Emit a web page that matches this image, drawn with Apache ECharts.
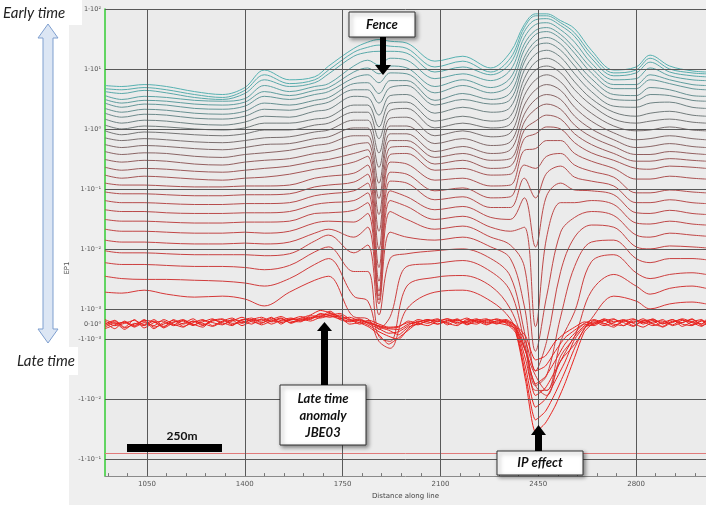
<!DOCTYPE html>
<html>
<head>
<meta charset="utf-8">
<script src="https://cdn.jsdelivr.net/npm/echarts@6/dist/echarts.min.js"></script>
<style>
  html, body { margin: 0; padding: 0; background: #fff; }
  #panel { position: absolute; left: 69px; top: 0; width: 637px; height: 505px; background: #efefef; }
  #chart { position: absolute; left: 0; top: 0; width: 706px; height: 505px; }
</style>
</head>
<body>
<div id="panel"></div>
<div id="chart"></div>
<script>
// distance along line of the sampled stations
const distance = [900, 960, 1040, 1120, 1220, 1320, 1400, 1470, 1560, 1650, 1700, 1790, 1840, 1880, 1920, 1980,
  2080, 2180, 2280, 2350, 2400, 2440, 2480, 2530, 2580, 2640, 2720, 2800, 2850, 2920, 3000, 3050];

// EP1 per time gate, early -> late
const gate01 = [5.3, 5.1, 5.5, 5.1, 4.2, 3.75, 4.9, 9.6, 6.6, 7.4, 11.2, 22, 28, 31, 29, 27, 13.5, 16.3, 10.4, 19, 55, 83, 83, 64, 47, 20.5, 9.6, 10.8, 17, 11.2, 9.3, 8.9];
const gate02 = [4.7, 4.5, 4.9, 4.5, 3.75, 3.35, 4.4, 8.0, 5.7, 6.6, 9.6, 19, 23, 25, 24, 22, 10.8, 13.5, 8.9, 15.1, 49, 77, 77, 59, 40, 17.6, 8.6, 9.6, 15.1, 10, 8.6, 8.3];
const gate03 = [4.2, 3.9, 4.4, 4.0, 3.35, 3.1, 3.9, 6.6, 5.1, 5.9, 8.3, 16.3, 19, 19.7, 19.7, 18.3, 8.9, 10.8, 8.0, 12.5, 42, 66, 69, 53, 35, 15.1, 7.7, 8.6, 13, 8.9, 7.7, 7.4];
const gate04 = [3.6, 3.1, 3.5, 3.35, 3.0, 2.9, 3.2, 5.3, 4.2, 5.1, 5.7, 11.2, 14, 11.6, 15.1, 14, 6.9, 8.3, 6.4, 9.6, 33.5, 55, 59, 45, 28, 12.5, 6.6, 6.9, 10.4, 7.7, 6.6, 6.4];
const gate05 = [3.1, 2.7, 3.0, 2.9, 2.6, 2.5, 2.8, 4.2, 3.6, 4.4, 4.9, 8.9, 10.4, 8.3, 11.2, 10.4, 5.1, 6.6, 4.9, 7.1, 26, 44, 49, 37.5, 22, 10.4, 5.5, 5.5, 8.0, 6.6, 5.5, 5.3];
const gate06 = [2.7, 2.3, 2.6, 2.5, 2.2, 2.13, 2.4, 3.5, 3.1, 3.75, 4.2, 7.1, 8.0, 5.9, 8.6, 8.3, 4.0, 5.3, 4.0, 5.5, 21, 37.5, 42, 32, 18.3, 8.6, 4.7, 4.7, 6.6, 5.7, 4.7, 4.5];
const gate07 = [2.2, 1.9, 2.13, 2.05, 1.83, 1.76, 1.97, 2.7, 2.5, 3.0, 3.35, 5.7, 5.9, 3.9, 6.4, 6.4, 3.0, 3.9, 3.1, 4.0, 15.7, 29, 33.5, 26, 14, 6.9, 3.75, 3.6, 4.9, 4.5, 3.6, 3.5];
const gate08 = [1.83, 1.57, 1.76, 1.7, 1.51, 1.46, 1.63, 2.13, 2.05, 2.5, 2.8, 4.5, 4.5, 2.7, 4.9, 5.3, 2.5, 3.1, 2.6, 3.1, 13, 24, 27, 20.5, 11.2, 5.5, 3.1, 3.0, 3.75, 3.6, 3.0, 2.9];
const gate09 = [1.46, 1.25, 1.4, 1.35, 1.21, 1.16, 1.3, 1.63, 1.57, 1.97, 2.13, 3.5, 3.35, 1.7, 3.6, 3.75, 1.83, 2.3, 1.9, 2.3, 9.6, 17.6, 20.5, 15.7, 8.3, 4.2, 2.4, 2.3, 2.7, 2.8, 2.3, 2.2];
const gate10 = [1.16, 1.0, 1.12, 1.08, 1.0, 0.96, 1.04, 1.25, 1.25, 1.46, 1.57, 2.5, 2.5, 1.08, 2.7, 2.8, 1.35, 1.63, 1.35, 1.63, 6.9, 13, 15.1, 11.6, 6.1, 3.2, 1.9, 1.63, 1.83, 1.97, 1.7, 1.63];
const gate11 = [0.93, 0.8, 0.89, 0.86, 0.8, 0.77, 0.83, 0.96, 0.96, 1.16, 1.25, 1.9, 1.9, 0.69, 2.05, 2.2, 1.04, 1.25, 1.04, 1.21, 5.1, 9.6, 11.2, 8.6, 4.5, 2.5, 1.46, 1.25, 1.35, 1.46, 1.3, 1.25];
const gate12 = [0.71, 0.64, 0.69, 0.66, 0.61, 0.59, 0.64, 0.71, 0.74, 0.89, 0.96, 1.4, 1.4, 0.4, 1.51, 1.57, 0.77, 0.93, 0.74, 0.86, 3.6, 6.6, 8.0, 6.1, 3.2, 1.83, 1.12, 0.93, 0.96, 1.08, 0.96, 0.93];
const gate13 = [0.55, 0.49, 0.53, 0.51, 0.47, 0.45, 0.49, 0.55, 0.57, 0.69, 0.74, 1.04, 1.04, 0.23, 1.12, 1.12, 0.57, 0.69, 0.53, 0.61, 2.5, 4.5, 5.5, 4.4, 2.3, 1.35, 0.86, 0.66, 0.69, 0.77, 0.69, 0.66];
const gate14 = [0.42, 0.375, 0.4, 0.39, 0.35, 0.335, 0.375, 0.4, 0.44, 0.53, 0.57, 0.77, 0.77, 0.125, 0.83, 0.83, 0.42, 0.51, 0.39, 0.45, 1.76, 3.1, 3.75, 3.1, 1.63, 1.0, 0.66, 0.49, 0.51, 0.57, 0.51, 0.49];
const gate15 = [0.31, 0.28, 0.3, 0.29, 0.26, 0.25, 0.28, 0.3, 0.32, 0.39, 0.42, 0.55, 0.59, 0.069, 0.64, 0.64, 0.335, 0.39, 0.3, 0.32, 1.3, 2.13, 2.6, 2.13, 1.16, 0.74, 0.51, 0.375, 0.375, 0.42, 0.39, 0.375];
const gate16 = [0.23, 0.205, 0.22, 0.213, 0.197, 0.19, 0.205, 0.22, 0.24, 0.29, 0.31, 0.39, 0.45, 0.0375, 0.49, 0.51, 0.26, 0.3, 0.22, 0.24, 0.96, 1.35, 1.7, 1.46, 0.83, 0.55, 0.39, 0.29, 0.29, 0.32, 0.3, 0.29];
const gate17 = [0.17, 0.151, 0.163, 0.157, 0.146, 0.14, 0.151, 0.157, 0.176, 0.213, 0.23, 0.28, 0.35, 0.0197, 0.375, 0.39, 0.205, 0.22, 0.17, 0.176, 0.69, 0.83, 1.08, 1.0, 0.59, 0.4, 0.3, 0.22, 0.213, 0.24, 0.23, 0.22];
const gate18 = [0.125, 0.116, 0.116, 0.112, 0.108, 0.108, 0.112, 0.112, 0.116, 0.151, 0.163, 0.183, 0.25, 0.01, 0.28, 0.26, 0.14, 0.151, 0.112, 0.116, 0.44, 0.47, 0.64, 0.64, 0.39, 0.29, 0.22, 0.146, 0.146, 0.163, 0.151, 0.146];
const gate19 = [0.089, 0.083, 0.083, 0.08, 0.077, 0.077, 0.08, 0.08, 0.083, 0.108, 0.116, 0.13, 0.176, 0.0049, 0.19, 0.176, 0.093, 0.104, 0.071, 0.074, 0.25, 0.22, 0.35, 0.39, 0.25, 0.197, 0.157, 0.086, 0.086, 0.096, 0.089, 0.086];
const gate20 = [0.064, 0.059, 0.059, 0.057, 0.055, 0.055, 0.057, 0.057, 0.059, 0.077, 0.083, 0.093, 0.125, 0.0029, 0.135, 0.125, 0.066, 0.074, 0.049, 0.049, 0.151, 0.071, 0.183, 0.24, 0.157, 0.135, 0.112, 0.059, 0.059, 0.066, 0.059, 0.057];
const gate21 = [0.045, 0.042, 0.042, 0.04, 0.039, 0.039, 0.04, 0.04, 0.042, 0.055, 0.059, 0.064, 0.086, 0.00197, 0.093, 0.074, 0.045, 0.051, 0.0335, 0.031, 0.071, 0.0108, 0.077, 0.125, 0.096, 0.093, 0.08, 0.04, 0.039, 0.044, 0.039, 0.0375];
const gate22 = [0.031, 0.029, 0.029, 0.028, 0.027, 0.027, 0.028, 0.028, 0.029, 0.039, 0.04, 0.044, 0.059, 0.00163, 0.064, 0.051, 0.031, 0.035, 0.023, 0.0197, 0.023, -0.00016, 0.0157, 0.059, 0.059, 0.064, 0.055, 0.027, 0.026, 0.029, 0.026, 0.025];
const gate23 = [0.0213, 0.0197, 0.0197, 0.019, 0.0183, 0.0183, 0.019, 0.0183, 0.0197, 0.027, 0.029, 0.028, 0.039, 0.0014, 0.042, 0.031, 0.0213, 0.024, 0.0157, 0.0116, 0.0051, -0.00157, 0.00163, 0.019, 0.0335, 0.042, 0.036, 0.017, 0.0157, 0.0183, 0.017, 0.0163];
const gate24 = [0.014, 0.013, 0.013, 0.0125, 0.0121, 0.0121, 0.0125, 0.0121, 0.013, 0.0183, 0.0213, 0.0157, 0.023, 0.00121, 0.019, 0.0157, 0.014, 0.0157, 0.0108, 0.0069, 0.00112, -0.00335, -0.00108, 0.0042, 0.0157, 0.025, 0.023, 0.0108, 0.01, 0.0112, 0.0108, 0.0104];
const gate25 = [0.0093, 0.0086, 0.0086, 0.0083, 0.008, 0.008, 0.008, 0.0077, 0.0083, 0.0135, 0.017, 0.0086, 0.0116, 0.00061, 0.0069, 0.0083, 0.0093, 0.01, 0.0069, 0.0035, -0.00048, -0.0059, -0.004, 0.00048, 0.0051, 0.013, 0.014, 0.0069, 0.0059, 0.0069, 0.0069, 0.0066];
const gate26 = [0.0059, 0.0055, 0.0055, 0.0053, 0.0051, 0.0051, 0.0049, 0.0045, 0.0053, 0.0089, 0.0108, 0.0042, 0.0042, -0.00035, 0.00048, 0.0051, 0.0057, 0.0064, 0.0042, 0.00197, -0.00108, -0.0071, -0.0071, -0.00108, 0.00081, 0.0061, 0.008, 0.004, 0.0032, 0.00375, 0.004, 0.00375];
const gate27 = [0.0035, 0.0032, 0.0031, 0.0031, 0.003, 0.0029, 0.0027, 0.0024, 0.0032, 0.0055, 0.0069, 0.00163, 0.00135, -0.00081, -0.00108, 0.0024, 0.00335, 0.0036, 0.0024, 0.001, -0.0013, -0.0059, -0.0086, -0.0019, -0.00081, 0.00197, 0.00375, 0.0024, 0.00176, 0.0022, 0.0024, 0.0022];
const gate28 = [0.0019, 0.00183, 0.00205, 0.00176, 0.00157, 0.00163, 0.00146, 0.00112, 0.0019, 0.003, 0.0035, 0.00048, 0.00035, -0.00108, -0.00141, 0.001, 0.0019, 0.00205, 0.00135, 0.00035, -0.00141, -0.004, -0.0071, -0.0023, -0.00121, 0.00035, 0.00163, 0.00135, 0.001, 0.00121, 0.0013, 0.00121];

// latest gates, noisy around zero, sampled more densely; values in units of 1e-3 EP1
const lateDistance = [900, 935, 970, 1005, 1040, 1075, 1110, 1145, 1180, 1215, 1250, 1285, 1320, 1355, 1390, 1425,
  1460, 1495, 1530, 1565, 1600, 1635, 1670, 1705, 1740, 1775, 1810, 1845, 1880, 1915, 1950, 1985, 2020, 2055, 2090,
  2125, 2160, 2195, 2230, 2265, 2300, 2335, 2370, 2405, 2440, 2475, 2510, 2545, 2580, 2615, 2650, 2685, 2720, 2755,
  2790, 2825, 2860, 2895, 2930, 2965, 3000, 3035, 3050];
const lateUnit = 1e-3;
const late1 = [0.1, -0.3, 0.2, -0.1, 0.3, -0.2, 0.0, 0.25, -0.15, 0.1, 0.3, -0.1, 0.2, 0.4, 0.05, 0.3, 0.45, 0.2, 0.35, 0.1, 0.4, 0.6, 0.9, 0.75, 0.5, 0.3, 0.1, -0.2, -0.7, -1.2, -0.9, -0.4, 0.1, 0.3, 0.15, 0.35, 0.2, 0.4, 0.1, 0.25, 0.3, 0.05, -0.6, -5, -35, -25, -13, -5.5, -2.0, -0.5, 0.1, 0.3, -0.1, 0.2, 0.35, 0.0, 0.25, -0.2, 0.15, 0.3, -0.05, 0.2, 0.1];
const late2 = [-0.2, 0.1, -0.35, 0.05, -0.1, 0.2, -0.25, 0.1, 0.3, -0.05, 0.15, 0.35, 0.0, 0.2, 0.45, 0.15, 0.05, 0.4, 0.1, 0.3, 0.5, 0.3, 0.7, 0.55, 0.35, 0.45, 0.2, -0.1, -0.5, -0.8, -1.0, -0.3, 0.2, 0.05, 0.3, 0.1, 0.35, 0.0, 0.3, 0.15, 0.05, 0.25, -0.5, -4, -22, -16, -8, -3.5, -1.4, -0.3, 0.25, 0.0, 0.3, 0.1, -0.15, 0.25, 0.05, 0.3, -0.1, 0.1, 0.3, 0.0, 0.2];
const late3 = [0.0, 0.25, -0.2, 0.3, -0.25, 0.1, 0.2, -0.1, 0.05, 0.35, -0.05, 0.2, 0.3, -0.05, 0.25, 0.4, 0.1, 0.3, 0.5, 0.2, 0.15, 0.55, 0.5, 0.85, 0.4, 0.2, 0.3, 0.0, -0.3, -0.6, -0.5, -0.1, 0.3, 0.15, 0.0, 0.25, 0.1, 0.2, 0.35, 0.0, 0.2, 0.1, -0.4, -3, -13.5, -10, -5, -2.4, -1.0, -0.2, 0.0, 0.2, 0.35, -0.1, 0.2, 0.1, 0.35, 0.0, 0.3, -0.15, 0.15, 0.3, -0.05];
const late4 = [-0.3, -0.05, 0.15, -0.2, 0.1, -0.1, 0.3, 0.0, -0.2, 0.2, 0.05, -0.15, 0.15, 0.25, -0.1, 0.2, 0.3, 0.0, 0.25, 0.4, 0.25, 0.4, 0.65, 0.6, 0.7, 0.35, 0.0, 0.15, -0.2, -0.4, -0.7, -0.2, 0.0, 0.2, 0.35, -0.05, 0.25, 0.1, 0.0, 0.3, 0.1, -0.05, -0.3, -2.2, -8.6, -6.5, -3.4, -1.7, -0.8, -0.1, 0.15, -0.1, 0.1, 0.3, 0.05, -0.2, 0.15, 0.2, -0.05, 0.25, 0.1, -0.15, 0.1];
const late5 = [0.2, -0.1, 0.05, 0.25, -0.05, 0.3, -0.15, 0.15, 0.2, -0.1, 0.25, 0.1, -0.05, 0.3, 0.2, 0.0, 0.35, 0.15, 0.2, 0.3, 0.35, 0.2, 0.45, 0.7, 0.3, 0.15, 0.25, 0.1, -0.15, -0.3, -0.35, 0.0, 0.15, 0.3, 0.0, 0.2, 0.3, -0.05, 0.2, 0.1, 0.35, 0.15, -0.2, -1.6, -5.5, -4.2, -2.3, -1.2, -0.6, 0.0, -0.1, 0.25, 0.0, -0.1, 0.3, 0.15, -0.1, 0.1, 0.3, 0.0, -0.1, 0.25, 0.15];
const late6 = [-0.1, 0.2, -0.25, 0.0, 0.2, -0.3, 0.1, -0.05, 0.25, 0.0, -0.2, 0.3, 0.1, -0.1, 0.3, 0.25, -0.05, 0.2, 0.4, 0.05, 0.3, 0.45, 0.4, 0.55, 0.45, 0.0, 0.1, 0.25, 0.0, -0.2, -0.15, 0.1, -0.05, 0.25, 0.2, 0.05, -0.1, 0.3, 0.2, -0.05, 0.2, 0.3, -0.15, -1.1, -3.35, -2.8, -1.6, -0.9, -0.4, 0.05, 0.3, 0.05, -0.2, 0.2, 0.1, 0.35, 0.0, -0.15, 0.2, 0.1, 0.35, -0.1, 0.0];
const late7 = [0.3, 0.05, 0.1, -0.15, 0.25, 0.15, -0.2, 0.3, 0.0, 0.2, -0.1, 0.25, 0.35, 0.05, 0.1, 0.3, 0.2, 0.45, 0.0, 0.35, 0.2, 0.35, 0.55, 0.45, 0.6, 0.25, 0.35, 0.05, -0.1, -0.25, -0.2, 0.2, 0.05, -0.1, 0.2, 0.35, 0.0, 0.15, 0.25, 0.35, 0.0, 0.2, -0.1, -0.8, -2.2, -1.9, -1.1, -0.6, -0.2, 0.15, 0.0, 0.35, 0.15, 0.25, -0.1, 0.2, 0.3, 0.05, 0.1, 0.35, 0.15, 0.0, 0.3];

// flat trace near -1e-1
const flatTrace = [-0.08, -0.08];
const flatDistance = [900, 3050];

const xTicks = [1050, 1400, 1750, 2100, 2450, 2800];
const xMinorTicks = [910, 980, 1050, 1120, 1190, 1260, 1330, 1400, 1470, 1540, 1610, 1680, 1750, 1820, 1890, 1960, 2030,
  2100, 2170, 2240, 2310, 2380, 2450, 2520, 2590, 2660, 2730, 2800, 2870, 2940, 3010];
const yTicks = [100, 10, 1, 0.1, 0.01, 0.001, 0, -0.001, -0.01, -0.1];
const yTickText = ['1·10²', '1·10¹', '1·10⁰', '1·10⁻¹', '1·10⁻²', '1·10⁻³', '0·10⁰', '-1·10⁻³', '-1·10⁻²', '-1·10⁻¹'];

const gates = [gate01, gate02, gate03, gate04, gate05, gate06, gate07, gate08, gate09, gate10, gate11, gate12, gate13, gate14,
  gate15, gate16, gate17, gate18, gate19, gate20, gate21, gate22, gate23, gate24, gate25, gate26, gate27, gate28];
const lates = [late1, late2, late3, late4, late5, late6, late7];

const gateColors = ['#56b1b1', '#57adad', '#59a8a9', '#5ca3a4', '#5f9d9e', '#639798', '#679091', '#6b898a', '#6f8283',
  '#727b7b', '#757575', '#7a7070', '#816a6a', '#896565', '#925f5f', '#9b5a5a', '#a45656', '#ab5252', '#b14f4f',
  '#b64c4c', '#ba4a4a', '#be4848', '#c14646', '#c44444', '#c84242', '#cc3f3f', '#d03b3b', '#d53737'];
const lateColor = '#e8221e';

// symmetric log axis: linear between -1e-3 and 1e-3, log outside
const LIN = 1e-3;
const LINW = 15.5 / 61;
function symlog(v) {
  const a = Math.abs(v);
  if (a < LIN) return v / LIN * LINW;
  return Math.sign(v) * (Math.log10(a / LIN) + LINW);
}

const chart = echarts.init(document.getElementById('chart'), null, {renderer: 'canvas'});

const lineSeries = (xs, values, scale, color, smooth) => ({
  type: 'line',
  data: xs.map((d, i) => [d, symlog(values[i] * scale)]),
  smooth: smooth,
  showSymbol: false,
  symbol: 'none',
  silent: true,
  z: 3,
  lineStyle: {color: color, width: 1}
});

const series = [
  {
    // grid lines of the plot
    type: 'line',
    data: [[900, 0]],
    symbol: 'none',
    silent: true,
    z: 1,
    lineStyle: {opacity: 0},
    markLine: {
      silent: true,
      symbol: 'none',
      animation: false,
      label: {show: false},
      lineStyle: {color: '#595959', width: 1, type: 'solid'},
      data: [
        ...xTicks.map(x => ({xAxis: x})),
        ...yTicks.filter(v => v !== 0).map(v => ({yAxis: symlog(v)}))
      ]
    }
  },
  {
    type: 'line',
    data: flatDistance.map((d, i) => [d, symlog(flatTrace[i])]),
    symbol: 'none',
    silent: true,
    z: 2,
    lineStyle: {color: '#e07a7a', width: 1}
  },
  ...gates.map((g, i) => lineSeries(distance, g, 1, gateColors[i], 0.35)),
  ...lates.map(g => lineSeries(lateDistance, g, lateUnit, lateColor, 0.2))
];

const boxStyle = {
  fill: '#fff', stroke: '#333', lineWidth: 1,
  shadowBlur: 4, shadowOffsetX: 2, shadowOffsetY: 2, shadowColor: 'rgba(0,0,0,0.45)'
};
const boxFont = 'italic bold 13px Lato';

const option = {
  animation: false,
  grid: {left: 105, right: 0, top: 9, bottom: 23, show: true, backgroundColor: '#ebebeb', borderWidth: 0},
  xAxis: {
    type: 'value',
    min: 900,
    max: 3050,
    name: 'Distance along line',
    nameLocation: 'middle',
    nameGap: 15,
    nameTextStyle: {fontSize: 7, color: '#444', fontFamily: 'DejaVu Sans'},
    axisLine: {onZero: false, lineStyle: {color: '#8a8a8a', width: 1}},
    axisTick: {show: true, inside: true, length: 3, customValues: xMinorTicks, lineStyle: {color: '#777'}},
    axisLabel: {customValues: xTicks, fontSize: 7, color: '#555', margin: 5, fontFamily: 'DejaVu Sans',
      formatter: (v) => String(v)},
    splitLine: {show: false}
  },
  yAxis: {
    type: 'value',
    min: -2.534,
    max: symlog(100),
    axisLine: {show: true, onZero: false, lineStyle: {color: '#33cc33', width: 1.5}},
    axisTick: {show: false},
    splitLine: {show: false},
    axisLabel: {
      customValues: yTicks.map(symlog),
      fontSize: 6.5,
      color: '#555',
      margin: 4,
      fontFamily: 'DejaVu Sans',
      formatter: (val) => {
        const i = yTicks.findIndex(t => Math.abs(symlog(t) - val) < 1e-6);
        return i >= 0 ? yTickText[i] : '';
      }
    }
  },
  series: series,
  graphic: [
    // y axis name
    {type: 'text', x: 67, y: 268, rotation: Math.PI / 2, z: 50,
      style: {text: 'EP1', font: '7px "DejaVu Sans"', fill: '#555', align: 'center', verticalAlign: 'middle'}},
    // early / late time labels and double arrow
    {type: 'rect', shape: {x: 0, y: 0, width: 82, height: 25}, style: {fill: '#fff'}, z: 50},
    {type: 'text', x: 3, y: 13, z: 51,
      style: {text: 'Early time', font: 'italic 15px Lato', fill: '#222', verticalAlign: 'middle'}},
    {type: 'rect', shape: {x: 0, y: 347, width: 78, height: 28}, style: {fill: '#fff'}, z: 50},
    {type: 'text', x: 17, y: 361, z: 51,
      style: {text: 'Late time', font: 'italic 15px Lato', fill: '#222', verticalAlign: 'middle'}},
    {type: 'polygon', z: 51,
      shape: {points: [[48, 24], [58, 38], [53, 38], [53, 329], [58, 329], [48, 343], [38, 329], [43, 329], [43, 38], [38, 38]]},
      style: {fill: '#dce6f4', stroke: '#7f9fcf', lineWidth: 1}},
    // Fence
    {type: 'rect', shape: {x: 349, y: 12, width: 66, height: 25}, style: boxStyle, z: 60},
    {type: 'text', x: 382, y: 24.5, z: 61,
      style: {text: 'Fence', font: boxFont, fill: '#111', align: 'center', verticalAlign: 'middle'}},
    {type: 'rect', shape: {x: 380, y: 37, width: 6, height: 29}, style: {fill: '#000'}, z: 60},
    {type: 'polygon', shape: {points: [[375, 65], [391, 65], [383, 75]]}, style: {fill: '#000'}, z: 60},
    // Late time anomaly JBE03
    {type: 'rect', shape: {x: 280, y: 385, width: 86, height: 60}, style: boxStyle, z: 60},
    {type: 'text', x: 323, y: 399, z: 61,
      style: {text: 'Late time', font: boxFont, fill: '#111', align: 'center', verticalAlign: 'middle'}},
    {type: 'text', x: 323, y: 416, z: 61,
      style: {text: 'anomaly', font: boxFont, fill: '#111', align: 'center', verticalAlign: 'middle'}},
    {type: 'text', x: 323, y: 433, z: 61,
      style: {text: 'JBE03', font: boxFont, fill: '#111', align: 'center', verticalAlign: 'middle'}},
    {type: 'rect', shape: {x: 321, y: 330, width: 7, height: 55}, style: {fill: '#000'}, z: 60},
    {type: 'polygon', shape: {points: [[317, 331], [332, 331], [324.5, 322]]}, style: {fill: '#000'}, z: 60},
    // IP effect
    {type: 'rect', shape: {x: 497, y: 451, width: 86, height: 24}, style: boxStyle, z: 60},
    {type: 'text', x: 540, y: 463, z: 61,
      style: {text: 'IP effect', font: boxFont, fill: '#111', align: 'center', verticalAlign: 'middle'}},
    {type: 'rect', shape: {x: 535, y: 434, width: 7, height: 17}, style: {fill: '#000'}, z: 60},
    {type: 'polygon', shape: {points: [[531, 435], [546, 435], [538.5, 425]]}, style: {fill: '#000'}, z: 60},
    // scale bar
    {type: 'rect', shape: {x: 127, y: 444, width: 95, height: 8}, style: {fill: '#000'}, z: 60},
    {type: 'text', x: 182, y: 436, z: 61,
      style: {text: '250m', font: 'bold 12px Lato', fill: '#111', align: 'center', verticalAlign: 'middle'}}
  ]
};

chart.setOption(option);
</script>
</body>
</html>
